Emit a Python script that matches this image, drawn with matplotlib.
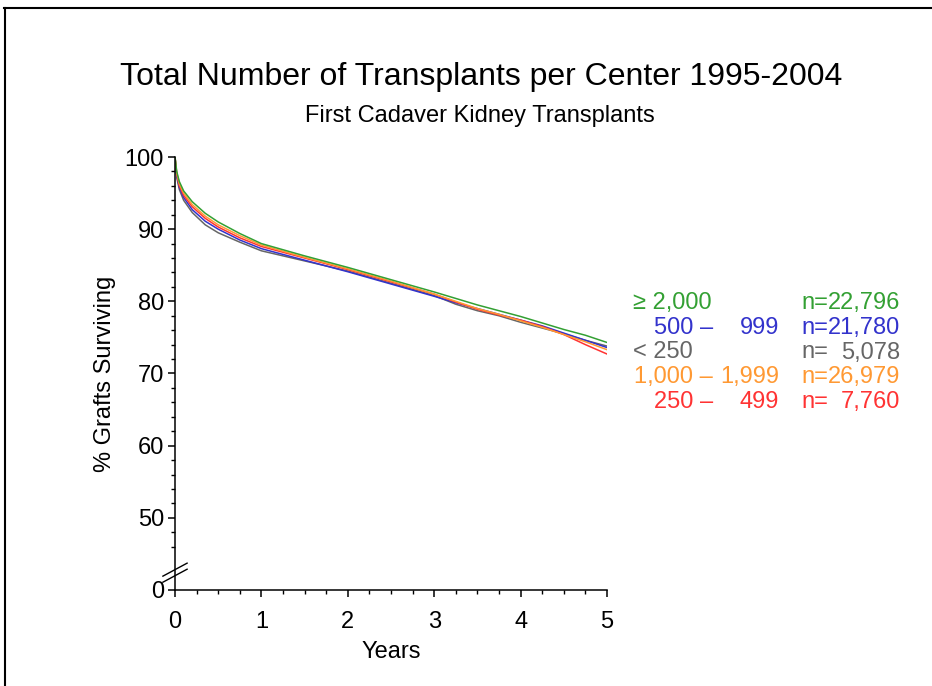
import matplotlib
matplotlib.use("Agg")
import matplotlib.pyplot as plt
from matplotlib.lines import Line2D
from matplotlib.ticker import FixedLocator

plt.rcParams['font.family'] = ['Liberation Sans', 'DejaVu Sans']

# ---- data ----
years = [0, 0.02, 0.05, 0.1, 0.2, 0.35, 0.5, 0.75, 1, 1.5, 2, 2.5, 3,
         3.25, 3.5, 3.75, 4, 4.25, 4.5, 4.75, 5]
surv_ge2000 = [100, 98.0, 96.6, 95.3, 93.8, 92.2, 91.0, 89.4, 88.0, 86.3, 84.7,
               83.0, 81.3, 80.4, 79.5, 78.7, 77.9, 77.0, 76.1, 75.3, 74.3]
surv_1000_1999 = [100, 97.8, 96.3, 95.0, 93.4, 91.8, 90.6, 89.1, 87.8, 86.1, 84.5,
                  82.8, 81.0, 80.0, 79.0, 78.2, 77.3, 76.4, 75.4, 74.4, 73.3]
surv_250_499 = [100, 97.6, 96.0, 94.7, 93.1, 91.5, 90.3, 88.8, 87.6, 86.0, 84.4,
                82.7, 81.0, 79.9, 78.9, 78.1, 77.4, 76.5, 75.4, 74.0, 72.7]
surv_500_999 = [100, 97.4, 95.8, 94.4, 92.7, 91.1, 90.0, 88.5, 87.3, 85.7, 84.1,
                82.4, 80.7, 79.8, 79.0, 78.2, 77.4, 76.6, 75.6, 74.6, 73.6]
surv_lt250 = [100, 97.2, 95.5, 94.0, 92.3, 90.6, 89.5, 88.2, 87.0, 85.6, 84.2,
              82.5, 80.8, 79.6, 78.7, 78.0, 77.1, 76.3, 75.5, 74.6, 73.8]

# legend rows (top to bottom)
leg_low = ["\u2265 2,000", "500 \u2013", "< 250", "1,000 \u2013", "250 \u2013"]
leg_high = ["", "999", "", "1,999", "499"]
leg_n = ["22,796", "21,780", "5,078", "26,979", "7,760"]
leg_colors = ["#33a033", "#3333cc", "#666666", "#ff9933", "#ff3333"]

series = [
    (surv_lt250, "#666666"),
    (surv_500_999, "#3333cc"),
    (surv_250_499, "#ff3333"),
    (surv_1000_1999, "#ff9933"),
    (surv_ge2000, "#33a033"),
]

y_major = [40, 50, 60, 70, 80, 90, 100]
y_major_labels = ["0", "50", "60", "70", "80", "90", "100"]
x_major = [0, 1, 2, 3, 4, 5]

W, H = 932, 686
fig = plt.figure(figsize=(W / 100, H / 100), dpi=100)
ax = fig.add_axes([175 / W, 1 - 590 / H, 432 / W, 433 / H])

for vals, c in series:
    ax.plot(years, vals, color=c, lw=1.1)

ax.set_xlim(0, 5)
ax.set_ylim(40, 100)
ax.spines['top'].set_visible(False)
ax.spines['right'].set_visible(False)
for s in ('left', 'bottom'):
    ax.spines[s].set_linewidth(1.1)

ax.set_xticks(x_major)
ax.set_xticklabels([str(v) for v in x_major])
ax.xaxis.set_minor_locator(FixedLocator([i * 0.25 for i in range(21)]))
ax.set_yticks(y_major)
ax.set_yticklabels(y_major_labels)
ax.yaxis.set_minor_locator(FixedLocator([46, 48] + list(range(52, 100, 2))))

ax.tick_params(axis='both', which='major', direction='out', length=5, width=1.1,
               labelsize=17, color='black')
ax.tick_params(axis='x', which='major', pad=10)
ax.tick_params(axis='y', which='major', pad=3)
ax.tick_params(axis='both', which='minor', direction='out', length=3, width=1.0)

ax.set_xlabel("Years", fontsize=17, labelpad=6)
ax.set_ylabel("% Grafts Surviving", fontsize=17, labelpad=6)

# axis break marks
for y0 in (0.018, 0.032):
    ax.add_line(Line2D([-0.028, 0.028], [y0, y0 + 0.03], transform=ax.transAxes,
                       color='black', lw=1.0, clip_on=False))

# titles
fig.text(481 / W, 1 - 77 / H, "Total Number of Transplants per Center 1995-2004",
         ha='center', va='center', fontsize=23)
fig.text(480 / W, 1 - 116 / H, "First Cadaver Kidney Transplants",
         ha='center', va='center', fontsize=17)

# legend text
baselines = [309, 334, 358.5, 383, 408]
for lo, hi, n, c, yb in zip(leg_low, leg_high, leg_n, leg_colors, baselines):
    yf = 1 - yb / H
    if hi == "":
        fig.text(633 / W, yf, lo, ha='left', va='baseline', fontsize=17, color=c)
    else:
        fig.text(713 / W, yf, lo, ha='right', va='baseline', fontsize=17, color=c)
        fig.text(779 / W, yf, hi, ha='right', va='baseline', fontsize=17, color=c)
    fig.text(801 / W, yf, "n=", ha='left', va='baseline', fontsize=17, color=c)
    fig.text(900 / W, yf, n, ha='right', va='baseline', fontsize=17, color=c)

# outer border (top and left)
fig.add_artist(Line2D([4 / W, 1.0], [1 - 7.7 / H, 1 - 7.7 / H], transform=fig.transFigure,
                      color='black', lw=1.5))
fig.add_artist(Line2D([4.5 / W, 4.5 / W], [0, 1 - 7.7 / H], transform=fig.transFigure,
                      color='black', lw=1.5))

fig.savefig("out.png", dpi=100)
